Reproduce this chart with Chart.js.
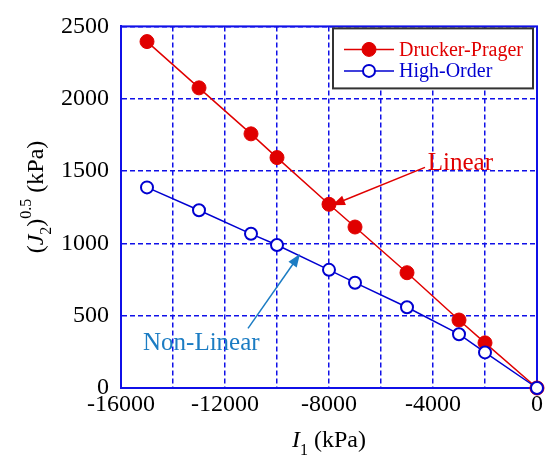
<!DOCTYPE html>
<html>
<head>
<meta charset="utf-8">
<script src="https://cdn.jsdelivr.net/npm/chart.js@4.4.0/dist/chart.umd.min.js"></script>
<style>
  html, body { margin: 0; padding: 0; background: #fff; }
  #wrap { width: 547px; height: 460px; }
</style>
</head>
<body>
<div id="wrap"><canvas id="stressChart"></canvas></div>
<script>
// I1 (kPa) for each stress state
const i1Values = [-15000, -13000, -11000, -10000, -8000, -7000, -5000, -3000, -2000, 0];
// (J2)^0.5 (kPa) for both yield surfaces
const druckerPrager = [2395, 2075, 1757, 1593, 1270, 1113, 797, 470, 312, 0];
const highOrder = [1387, 1229, 1066, 989, 817, 728, 558, 372, 246, 0];
const seriesLabels = ["Drucker-Prager", "High-Order"];
const xTicks = [-16000, -12000, -8000, -4000, 0];
const yTicks = [0, 500, 1000, 1500, 2000, 2500];

// callouts, in data units
const notes = [
  { text: "Linear", color: "#e00000", at: [-4200, 1552], tail: [-4308, 1525], tip: [-7885, 1264] },
  { text: "Non-Linear", color: "#1b7cc3", at: [-15154, 309], tail: [-11115, 412], tip: [-9115, 927] },
];

const SERIF = '"Liberation Serif", "Times New Roman", serif';
const GRID_BLUE = "#1010e8";

// draws a run of text pieces (italic / sub / superscript) centred on x
function drawRich(ctx, parts, x, y) {
  let total = 0;
  parts.forEach(p => { ctx.font = p.font; p.w = ctx.measureText(p.t).width; total += p.w; });
  let cx = x - total / 2;
  ctx.textAlign = "left";
  ctx.textBaseline = "alphabetic";
  parts.forEach(p => {
    ctx.font = p.font;
    ctx.fillText(p.t, cx, y + (p.dy || 0));
    cx += p.w;
  });
}

function arrow(ctx, x1, y1, x2, y2, color) {
  const ang = Math.atan2(y2 - y1, x2 - x1);
  const len = 13, half = 5;
  ctx.save();
  ctx.strokeStyle = color;
  ctx.fillStyle = color;
  ctx.lineWidth = 1.5;
  ctx.beginPath();
  ctx.moveTo(x1, y1);
  ctx.lineTo(x2 - Math.cos(ang) * len * 0.8, y2 - Math.sin(ang) * len * 0.8);
  ctx.stroke();
  ctx.beginPath();
  ctx.moveTo(x2, y2);
  ctx.lineTo(x2 - Math.cos(ang) * len - Math.sin(ang) * half, y2 - Math.sin(ang) * len + Math.cos(ang) * half);
  ctx.lineTo(x2 - Math.cos(ang) * len + Math.sin(ang) * half, y2 - Math.sin(ang) * len - Math.cos(ang) * half);
  ctx.closePath();
  ctx.fill();
  ctx.restore();
}

const extras = {
  id: "extras",
  // closed blue frame under the markers
  beforeDatasetsDraw(chart) {
    const { ctx, chartArea: a } = chart;
    ctx.save();
    ctx.strokeStyle = GRID_BLUE;
    ctx.lineWidth = 2;
    ctx.strokeRect(a.left, a.top, a.right - a.left, a.bottom - a.top);
    ctx.restore();
  },
  afterDatasetsDraw(chart) {
    const { ctx, chartArea: a, scales } = chart;
    const xs = scales.x, ys = scales.y;

    // legend box
    const bx = a.right - 204, by = a.top + 2, bw = 200, bh = 60;
    ctx.save();
    ctx.fillStyle = "#fff";
    ctx.fillRect(bx, by, bw, bh);
    ctx.strokeStyle = "#333";
    ctx.lineWidth = 2;
    ctx.strokeRect(bx, by, bw, bh);
    chart.data.datasets.forEach((ds, i) => {
      const ry = by + 21 + i * 21.5;
      ctx.strokeStyle = ds.borderColor;
      ctx.lineWidth = 1.5;
      ctx.beginPath();
      ctx.moveTo(bx + 11, ry);
      ctx.lineTo(bx + 61, ry);
      ctx.stroke();
      ctx.beginPath();
      ctx.arc(bx + 36, ry, ds.pointRadius, 0, Math.PI * 2);
      ctx.fillStyle = ds.pointBackgroundColor;
      ctx.fill();
      ctx.lineWidth = ds.pointBorderWidth;
      ctx.strokeStyle = ds.pointBorderColor;
      ctx.stroke();
      ctx.fillStyle = ds.borderColor;
      ctx.font = "20px " + SERIF;
      ctx.textAlign = "left";
      ctx.textBaseline = "middle";
      ctx.fillText(ds.label, bx + 66, ry + 1);
    });
    ctx.restore();

    // callouts with arrows
    notes.forEach(n => {
      arrow(ctx, xs.getPixelForValue(n.tail[0]), ys.getPixelForValue(n.tail[1]),
        xs.getPixelForValue(n.tip[0]), ys.getPixelForValue(n.tip[1]), n.color);
      ctx.save();
      ctx.fillStyle = n.color;
      ctx.font = "25px " + SERIF;
      ctx.textAlign = "left";
      ctx.textBaseline = "middle";
      ctx.fillText(n.text, xs.getPixelForValue(n.at[0]), ys.getPixelForValue(n.at[1]));
      ctx.restore();
    });

    // axis titles
    ctx.save();
    ctx.fillStyle = "#000";
    drawRich(ctx, [
      { t: "I", font: "italic 24px " + SERIF },
      { t: "1", font: "16px " + SERIF, dy: 8 },
      { t: " (kPa)", font: "24px " + SERIF },
    ], (a.left + a.right) / 2, 447);
    ctx.translate(43, 197);
    ctx.rotate(-Math.PI / 2);
    drawRich(ctx, [
      { t: "(", font: "24px " + SERIF },
      { t: "J", font: "italic 24px " + SERIF },
      { t: "2", font: "16px " + SERIF, dy: 8 },
      { t: ")", font: "24px " + SERIF },
      { t: "0.5", font: "16px " + SERIF, dy: -12 },
      { t: " (kPa)", font: "24px " + SERIF },
    ], 0, 0);
    ctx.restore();
  },
};

new Chart(document.getElementById("stressChart"), {
  type: "line",
  data: {
    datasets: [
      {
        label: seriesLabels[0],
        data: i1Values.map((x, i) => ({ x: x, y: druckerPrager[i] })),
        borderColor: "#e00000",
        borderWidth: 1.5,
        pointRadius: 7,
        pointBackgroundColor: "#e00000",
        pointBorderColor: "#e00000",
        pointBorderWidth: 1,
        clip: false,
        order: 1,
      },
      {
        // open circles sit on top of the filled ones
        label: seriesLabels[1],
        data: i1Values.map((x, i) => ({ x: x, y: highOrder[i] })),
        borderColor: "#0000d0",
        borderWidth: 1.5,
        pointRadius: 6,
        pointBackgroundColor: "#fff",
        pointBorderColor: "#0000d0",
        pointBorderWidth: 2,
        clip: false,
        order: 0,
      },
    ],
  },
  options: {
    responsive: true,
    maintainAspectRatio: false,
    animation: false,
    layout: { padding: { top: 24, right: 10, bottom: 0, left: 0 } },
    plugins: { legend: { display: false }, tooltip: { enabled: false } },
    scales: {
      x: {
        type: "linear",
        min: -16000,
        max: 0,
        ticks: {
          stepSize: 2000,
          autoSkip: false,
          maxRotation: 0,
          padding: 2,
          color: "#000",
          font: { family: SERIF, size: 24 },
          callback: v => (xTicks.includes(v) ? String(v) : ""),
        },
        grid: { color: GRID_BLUE, lineWidth: 1.5, drawTicks: false },
        border: { display: true, color: GRID_BLUE, width: 2, dash: [5, 3] },
        afterFit: s => { s.height = 72; },
      },
      y: {
        min: 0,
        max: 2500,
        ticks: {
          stepSize: 500,
          padding: 12,
          color: "#000",
          font: { family: SERIF, size: 24 },
          callback: v => (yTicks.includes(v) ? String(v) : ""),
        },
        grid: { color: GRID_BLUE, lineWidth: 1.5, drawTicks: false },
        border: { display: true, color: GRID_BLUE, width: 2, dash: [5, 3] },
        afterFit: s => { s.width = 121; },
      },
    },
  },
  plugins: [extras],
});
</script>
</body>
</html>
